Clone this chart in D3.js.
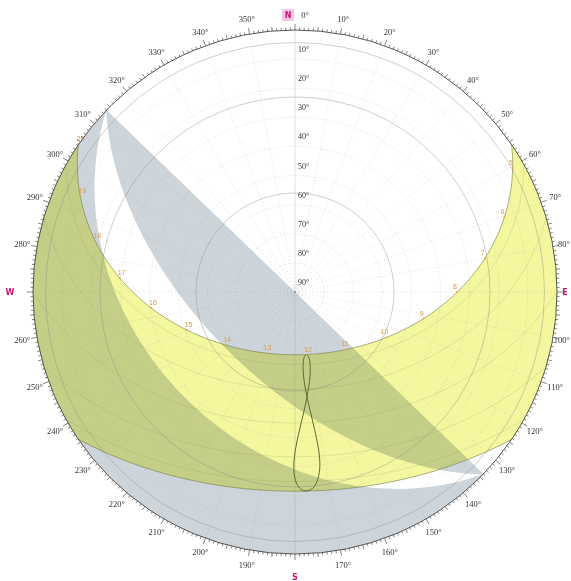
<!DOCTYPE html>
<html><head><meta charset="utf-8">
<script src="https://cdn.jsdelivr.net/npm/d3@7"></script>
<style>body{margin:0;background:#fff}svg{display:block}</style>
</head><body><svg id="c" width="571" height="581"></svg>
<script>
// ---------- data ----------
const latitude = 45;                       // pole altitude (noon alt 68.4 / 21.6)
const solsticeDec = 23.44;                 // June / December paths
const monthDeclinations = [20.1, 11.6, 0, -11.6, -20.1];
const azimuthLabels = [0,10,20,30,40,50,60,70,80,90,100,110,120,130,140,150,160,170,180,190,200,210,220,230,240,250,260,270,280,290,300,310,320,330,340,350];
const altitudeLabels = [10,20,30,40,50,60,70,80,90];
const gridAltitudes = [10,20,30,40,50,60,70,80];
const ringAltitudes = [56, 23, 4.3];
const cardinals = [{t:"N",az:0},{t:"E",az:90},{t:"S",az:180},{t:"W",az:270}];
const hourLabels = [5,6,7,8,9,10,11,12,13,14,15,16,17,18,19,20];
const clockOffsetMin = 15;                 // clock noon vs solar noon
const juneEoT = -1.6;                      // minutes
// analemma: declination (deg) and equation of time (min), 1st & 15th of each month
const analemmaDec = [-23.0,-21.2,-17.2,-12.6,-7.8,-2.4,4.3,9.6,15.0,18.8,22.0,23.3,23.1,21.5,18.1,14.0,8.3,3.0,-3.1,-8.5,-14.4,-18.5,-21.8,-23.3];
const analemmaEoT = [-3.3,-9.2,-13.5,-14.2,-12.4,-9.0,-4.0,-0.1,2.9,3.7,2.3,-0.3,-3.6,-5.9,-6.3,-4.5,-0.1,4.6,10.1,14.1,16.4,15.4,11.2,4.9];
// shading mask: planes through the horizontal axis 314° / 134°
const maskAxisAz = [314, 134];
const maskNormalAz = 224;
const upperMaskAlt = 59.5;   // apex of inner (overhang) boundary
const lowerMaskAlt = 37.6;   // apex of outer boundary

// ---------- layout ----------
const W = 571, cx = 295, cy = 292, R = 262;
const svg = d3.select("#c");
const geoScale = R / (Math.PI / 2);
const hproj = d3.geoAzimuthalEquidistant().rotate([0,-90]).scale(geoScale).translate([cx,cy]).clipAngle(90).precision(0.2);
const eproj = d3.geoAzimuthalEquidistant().rotate([0,-latitude]).scale(geoScale).translate([cx,cy]).clipAngle(90).precision(0.2);
const hpath = d3.geoPath(hproj), epath = d3.geoPath(eproj);
const hpt = (az, alt) => [180 - az, alt];
const ept = (ha, dec) => [-ha, dec];
const rScale = d3.scaleLinear().domain([90, 0]).range([0, R]);
const polar = (az, r) => [cx + r * Math.sin(az * Math.PI / 180), cy - r * Math.cos(az * Math.PI / 180)];

function poly(ring) {
  const p = {type:"Polygon", coordinates:[ring]};
  if (d3.geoArea(p) > 2 * Math.PI) ring.reverse();
  return p;
}

const YELLOW = "#f4f79e", GRAY = "#cdd5da";

// sun band between solstice paths
const bandOuter = d3.geoCircle().center([0,90]).radius(90 + solsticeDec)();
const capInner = d3.geoCircle().center([0,90]).radius(90 - solsticeDec)();
svg.append("path").attr("d", epath(bandOuter)).attr("fill", YELLOW);
svg.append("path").attr("d", epath(capInner)).attr("fill", "#fff");

// shading mask regions
const [a1, a2] = maskAxisAz;
const g1 = poly([hpt(a1,-0.3), hpt(a1,89.95), hpt(a2,89.95), hpt(a2,-0.3), hpt(maskNormalAz, upperMaskAlt), hpt(a1,-0.3)]);
const g2 = poly([hpt(a1,0), hpt(maskNormalAz, lowerMaskAlt), hpt(a2,0), hpt(a2,-3), hpt(a2+45,-3), hpt(maskNormalAz,-3), hpt(a1-45,-3), hpt(a1,-3), hpt(a1,0)]);
[g1, g2].forEach(g => svg.append("path").attr("d", hpath(g)).attr("fill", GRAY).style("mix-blend-mode","multiply"));

// grid
const grid = svg.append("g").attr("fill","none");
gridAltitudes.forEach(a => grid.append("circle").attr("cx",cx).attr("cy",cy).attr("r",rScale(a))
  .attr("stroke","#9a9a9a").attr("stroke-opacity",0.45).attr("stroke-width",0.5).attr("stroke-dasharray","1.5,2"));
d3.range(0,360,10).forEach(az => {
  const [x,y] = polar(az, R);
  grid.append("line").attr("x1",cx).attr("y1",cy).attr("x2",x).attr("y2",y)
    .attr("stroke","#9a9a9a").attr("stroke-opacity", az % 180 === 0 ? 0.6 : 0.4).attr("stroke-width",0.5)
    .attr("stroke-dasharray", az % 180 === 0 ? null : "1.5,2");
});
ringAltitudes.forEach(a => grid.append("circle").attr("cx",cx).attr("cy",cy).attr("r",rScale(a))
  .attr("stroke","#8c8c8c").attr("stroke-opacity",0.6).attr("stroke-width",0.7));

// month paths
const paths = svg.append("g").attr("fill","none");
monthDeclinations.forEach(d => {
  const ring = d3.geoCircle().center([0,90]).radius(90 - d)().coordinates[0];
  paths.append("path").attr("d", epath({type:"LineString", coordinates:ring}))
    .attr("stroke","#8d9660").attr("stroke-opacity",0.35).attr("stroke-width",0.6);
});
[solsticeDec, -solsticeDec].forEach(d => {
  const ring = d3.geoCircle().center([0,90]).radius(90 - d)().coordinates[0];
  paths.append("path").attr("d", epath({type:"LineString", coordinates:ring}))
    .attr("stroke","#6f7a45").attr("stroke-opacity",0.75).attr("stroke-width",0.8);
});

// analemma at clock noon
const anaPts = analemmaDec.map((d,i) => eproj(ept(analemmaEoT[i]/4 - clockOffsetMin/4, d)));
svg.append("path").attr("d", d3.line().curve(d3.curveCatmullRomClosed)(anaPts))
  .attr("fill","none").attr("stroke","#5d6b35").attr("stroke-width",1);

// hour labels on June path
hourLabels.forEach(h => {
  const ha = 15*(h-12) + juneEoT/4 - clockOffsetMin/4;
  const p = eproj(ept(ha, solsticeDec));
  if (Math.hypot(p[0]-cx, p[1]-cy) > R + 1) return;
  svg.append("circle").attr("cx",p[0]).attr("cy",p[1]).attr("r",1).attr("fill","#e8a24a");
  svg.append("text").attr("x",p[0]+ (h<12?-2:2)).attr("y",p[1]-3).attr("text-anchor","middle")
    .attr("font-family","Liberation Sans, Arial").attr("font-size",7).attr("fill","#e39a3e").text(h);
});

// horizon ring + ticks
svg.append("circle").attr("cx",cx).attr("cy",cy).attr("r",R).attr("fill","none").attr("stroke","#444").attr("stroke-width",0.9);
const ticks = svg.append("g").attr("stroke","#333").attr("stroke-width",0.6);
d3.range(0,360,1).forEach(d => {
  const len = d % 10 === 0 ? 6 : d % 5 === 0 ? 4 : 2.5;
  const [x1,y1] = polar(d, R), [x2,y2] = polar(d, R+len);
  ticks.append("line").attr("x1",x1).attr("y1",y1).attr("x2",x2).attr("y2",y2);
});

// azimuth labels
const lab = svg.append("g").attr("font-family","Liberation Serif, DejaVu Serif, serif").attr("font-size",8.5).attr("fill","#333");
azimuthLabels.forEach(az => {
  if (az % 90 === 0 && az !== 0) return;
  let [x,y] = polar(az, 277);
  if (az === 0) x += 10;
  let anchor = "middle";
  if (x > 556) { anchor = "end"; x = W - 1; }
  lab.append("text").attr("x",x).attr("y",y).attr("text-anchor",anchor).attr("dominant-baseline","central").text(az + "°");
});
// altitude labels
altitudeLabels.forEach(a => {
  lab.append("text").attr("x",cx+3).attr("y",cy - rScale(a) - 7).attr("font-size",8).text(a + "°");
});
// cardinals
cardinals.forEach(c => {
  let [x,y] = polar(c.az, c.az === 0 ? 277 : 285);
  if (c.az === 0) { x -= 7; svg.append("rect").attr("x",x-6).attr("y",y-6).attr("width",12).attr("height",12).attr("fill","#f4c6ec"); }
  x = Math.min(x, W - 6);
  svg.append("text").attr("x",x).attr("y",y).attr("text-anchor","middle").attr("dominant-baseline","central")
    .attr("font-family","DejaVu Sans, sans-serif").attr("font-weight","bold").attr("font-size",8).attr("fill","#d0146e").text(c.t);
});
</script></body></html>
